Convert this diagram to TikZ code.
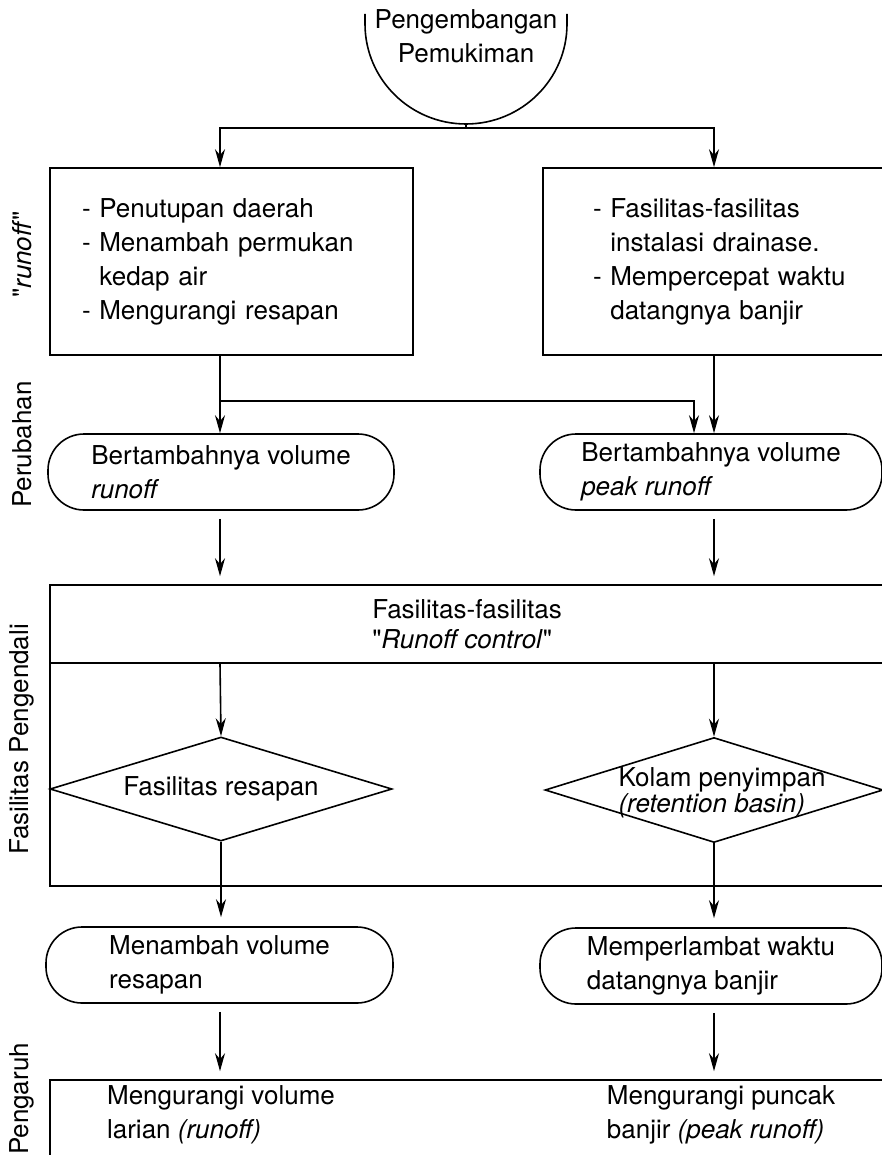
\documentclass[tikz,border=0pt]{standalone}
\usepackage{fontspec}
\setmainfont{TeX Gyre Heros}
\usetikzlibrary{arrows.meta,shapes.geometric}

\begin{document}
\begin{tikzpicture}[
  x=0.5pt, y=0.5pt,
  font=\fontsize{13}{17}\selectfont,
  line width=0.8pt,
  box/.style={draw, align=left, minimum height=93.5pt},
  pill/.style={draw, rounded corners=18pt, align=left, minimum height=38pt},
  band/.style={draw, minimum width=417pt},
  dia/.style={draw, diamond, inner sep=0pt},
  side/.style={rotate=90},
  arr/.style={-{Stealth[length=9pt,width=5pt]}},
  gap/.style={shorten <=4pt, shorten >=4pt}
]
  \useasboundingbox (0,0) rectangle (882,-1155);
  \clip (0,0) rectangle (882,-1155);

  % columns of the arrows
  \coordinate (lc) at (220,0);
  \coordinate (rc) at (714,0);
  \coordinate (bc) at (694,0);

  % start
  \node[align=center] (dev) at (466,-36) {Pengembangan\\Pemukiman};
  \draw (365,-14) -- (365,-24) arc[start angle=180, end angle=360, x radius=101, y radius=100] -- (567,-14);
  \coordinate (devbot) at (466,-124);
  \coordinate (split) at (466,-128);

  % changes
  \node[box, text width=149.5pt, inner xsep=16pt] (lbox) at (231.5,-261.5) {
    - Penutupan daerah\\
    - Menambah permukan\\
    \phantom{- }kedap air\\
    - Mengurangi resapan};
  \node[box, text width=150pt, inner xsep=25pt] (rbox) at (743,-261.5) {
    - Fasilitas-fasilitas\\
    \phantom{- }instalasi drainase.\\
    - Mempercepat waktu\\
    \phantom{- }datangnya banjir};

  \node[pill, minimum width=173pt] (lrise) at (221,-472) {Bertambahnya volume\\\textit{runoff}};
  \node[pill, minimum width=171pt] (rrise) at (711,-472) {Bertambahnya volume\\\textit{peak runoff}};

  % control facilities
  \node[band, minimum height=150.5pt] (zone) at (467,-735.5) {};
  \node[band, minimum height=39pt, align=left, font=\fontsize{13}{15}\selectfont] (ctrl) at (467,-624) {
    Fasilitas-fasilitas\\
    \textquotedbl\textit{Runoff control}\textquotedbl};

  \node[dia, minimum width=171pt, minimum height=52pt] (seep) at (221,-789) {};
  \node (seeptxt) at (seep) {Fasilitas resapan};
  \node[dia, minimum width=169pt, minimum height=52.5pt] (pond) at (714,-790) {};
  \node[align=left, font=\fontsize{13}{13}\selectfont] (pondtxt) at (722,-793) {Kolam penyimpan\\\textit{(retention basin)}};

  \node[pill, minimum width=173.5pt] (lgain) at (219.5,-965) {Menambah volume\\resapan};
  \node[pill, minimum width=171pt] (rslow) at (711,-966) {Memperlambat waktu\\datangnya banjir};

  % effect
  \node[band, minimum height=45pt] (effect) at (467,-1125) {};
  \node[align=left] (effl) at (221,-1115) {Mengurangi volume\\larian \textit{(runoff)}};
  \node[align=left] (effr) at (721,-1115) {Mengurangi puncak\\banjir \textit{(peak runoff)}};

  % side labels
  \node[side] (lblrun) at (22,-254.5) {\textquotedbl\textit{runoff}\textquotedbl};
  \node[side] (lblchg) at (22,-444.5) {Perubahan};
  \node[side] (lblctl) at (22,-739.5) {Fasilitas Pengendali};
  \node[side] (lbleff) at (22,-1099) {Pengaruh};

  % connectors
  \draw (devbot) -- (split);
  \draw[arr] (split) -| (lbox.north -| lc);
  \draw[arr] (split) -| (rbox.north -| rc);
  \coordinate (fork) at (220,-401);
  \draw[arr] (lbox.south -| lc) -- (lrise.north -| lc);
  \draw[arr] (fork) -| (rrise.north -| bc);
  \draw[arr] (rbox.south -| rc) -- (rrise.north -| rc);
  \draw[arr, gap] (lrise.south -| lc) -- (ctrl.north -| lc);
  \draw[arr, gap] (rrise.south -| rc) -- (ctrl.north -| rc);
  \draw[arr] (ctrl.south -| lc) -- (seep.north);
  \draw[arr] (ctrl.south -| rc) -- (pond.north);
  \draw[arr, shorten >=4.5pt] (seep.south) -- (lgain.north -| seep.south);
  \draw[arr, shorten >=4.5pt] (pond.south) -- (rslow.north -| pond.south);
  \draw[arr, gap] (lgain.south -| lc) -- (effect.north -| lc);
  \draw[arr, gap] (rslow.south -| rc) -- (effect.north -| rc);
\end{tikzpicture}
\end{document}
